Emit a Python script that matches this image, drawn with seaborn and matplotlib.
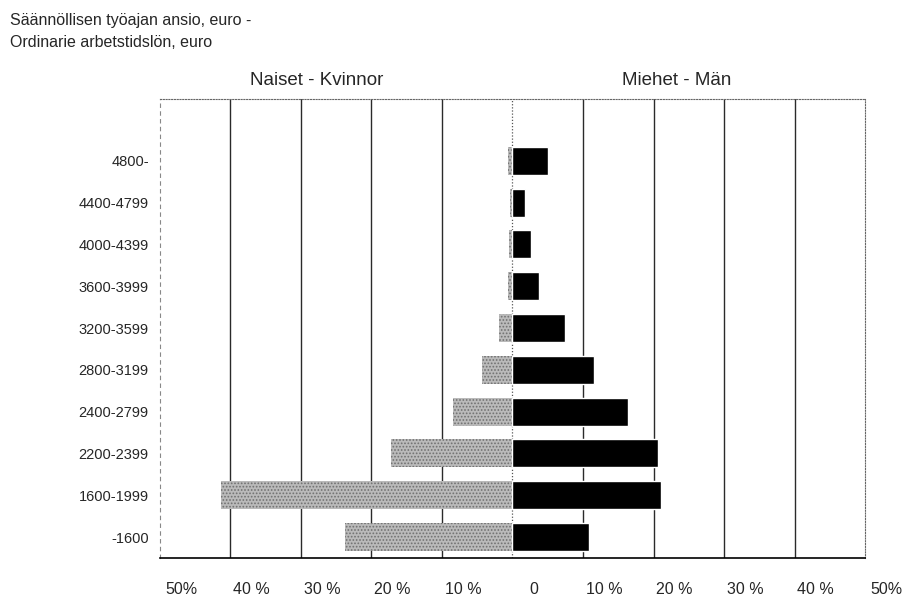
import numpy as np
import pandas as pd
import seaborn as sns
import matplotlib
import matplotlib.pyplot as plt
from matplotlib.transforms import ScaledTranslation

sns.set_style('white')
plt.rcParams['font.family'] = ['Liberation Sans', 'DejaVu Sans']
plt.rcParams['hatch.linewidth'] = 0.8

# earnings classes, top to bottom as in the picture
earnings = ['4800-', '4400-4799', '4000-4399', '3600-3999', '3200-3599',
            '2800-3199', '2400-2799', '2200-2399', '1600-1999', '-1600']
women = [0.7, 0.3, 0.5, 0.6, 1.9, 4.3, 8.4, 17.2, 41.4, 23.7]
men = [5.1, 1.8, 2.6, 3.7, 7.4, 11.5, 16.4, 20.6, 21.1, 10.9]

xticks = [-50, -40, -30, -20, -10, 0, 10, 20, 30, 40, 50]
xlabels = ['50%', '40 %', '30 %', '20 %', '10 %', '0',
           '10 %', '20 %', '30 %', '40 %', '50%']

df = pd.DataFrame({
    'ansio': earnings * 2,
    'osuus': [-w for w in women] + men,
    'sukupuoli': ['Naiset'] * len(women) + ['Miehet'] * len(men),
})

fig = plt.figure(figsize=(9.22, 5.95), dpi=100)
ax = fig.add_axes([0.1735, 0.0622, 0.7647, 0.7714])

sns.barplot(data=df, x='osuus', y='ansio', hue='sukupuoli',
            order=earnings, hue_order=['Naiset', 'Miehet'],
            palette={'Naiset': '#bababa', 'Miehet': 'black'},
            dodge=False, width=0.67, orient='h', errorbar=None,
            saturation=1, legend=False, ax=ax)

# stippled look for the women's bars
for bar in ax.containers[0]:
    bar.set_hatch('.....')
    bar.set_edgecolor('#707070')
    bar.set_linewidth(0)
    bar.set_zorder(2)
for bar in ax.containers[1]:
    bar.set_zorder(2)

for x in [-40, -30, -20, -10, 10, 20, 30, 40]:
    ax.axvline(x, color='#2a2a2a', lw=1.0, zorder=0.5)
ax.axvline(0, color='#555555', lw=0.9, ls=(0, (1, 1.5)), zorder=0.5)

ax.spines['left'].set_linestyle((0, (3, 4)))
ax.spines['left'].set_color('#888888')
ax.spines['top'].set_linestyle((0, (1, 1.5)))
ax.spines['top'].set_color('#666666')
ax.spines['right'].set_linestyle((0, (1, 1.5)))
ax.spines['right'].set_color('#666666')
ax.spines['bottom'].set_color('black')
ax.spines['bottom'].set_linewidth(1.2)
for s in ax.spines.values():
    s.set_visible(True)

ax.set_xlim(-50, 50)
ax.set_ylim(9.5, -1.48)
ax.set_xticks(xticks, xlabels)
ax.tick_params(axis='x', length=0, pad=17, labelsize=11.5)
ax.tick_params(axis='y', length=0, pad=8, labelsize=10.5)
ax.set_xlabel('')
ax.set_ylabel('')

# labels in the original sit right of their grid lines
shift = ScaledTranslation(21 / 100, 0, fig.dpi_scale_trans)
for lbl in ax.get_xticklabels():
    lbl.set_transform(lbl.get_transform() + shift)

ax.text(0.222, 1.041, 'Naiset - Kvinnor', transform=ax.transAxes,
        ha='center', va='center', fontsize=13.5)
ax.text(0.733, 1.041, 'Miehet - Män', transform=ax.transAxes,
        ha='center', va='center', fontsize=13.5)

fig.text(0.011, 0.966, 'Säännöllisen työajan ansio, euro -', fontsize=11.5, va='center')
fig.text(0.011, 0.929, 'Ordinarie arbetstidslön, euro', fontsize=11.5, va='center')

fig.savefig('out.png', dpi=100)
